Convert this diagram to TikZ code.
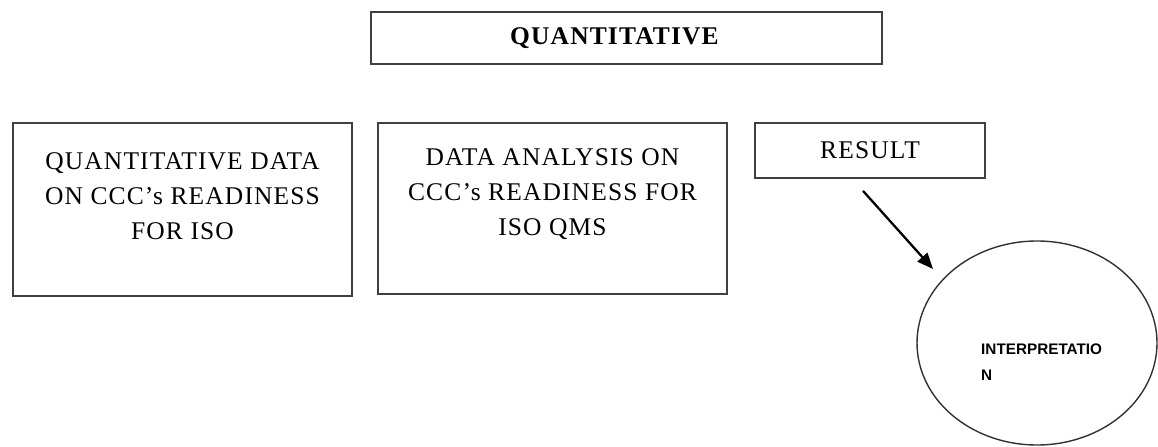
\documentclass[tikz,border=0pt]{standalone}
\usepackage{fontspec}
\setmainfont[LetterSpace=4.5]{Liberation Serif}
\newfontfamily\labelsans{Liberation Sans}
\usetikzlibrary{arrows.meta,shapes.geometric}

\begin{document}
\begin{tikzpicture}[font=\fontsize{14.5}{20}\selectfont]

      \useasboundingbox (0,0) rectangle (23.16,8.92);

      % 上の見出し
      \node[draw=black!75, line width=1pt, minimum width=10.22cm, minimum height=1.04cm] (quant) at (12.53,8.16) {};
      \node (quanttxt) at (12.30,8.16) {\textbf{QUANTITATIVE}};

      % データの箱
      \node[draw=black!75, line width=1pt, minimum width=6.78cm, minimum height=3.46cm] (data) at (3.65,4.73) {};
      \node[align=center] (datatxt) at (3.65,5.00) {QUANTITATIVE DATA\\ON CCC's READINESS\\FOR ISO};

      % 分析の箱
      \node[draw=black!75, line width=1pt, minimum width=6.98cm, minimum height=3.42cm] (analysis) at (11.05,4.75) {};
      \node[align=center] (analysistxt) at (11.05,5.04) {DATA ANALYSIS ON\\CCC's READINESS FOR\\ISO QMS};

      % 結果と解釈
      \node[draw=black!75, line width=1pt, minimum width=4.6cm, minimum height=1.1cm] (result) at (17.40,5.91) {RESULT};
      \node[draw=black!80, ellipse, line width=0.8pt, minimum width=4.8cm, minimum height=4.08cm] (interp) at (20.74,2.06) {};
      \node[anchor=west, align=left, font=\labelsans\bfseries\fontsize{8.7}{14.8}\selectfont] (interptxt) at (19.50,1.68) {INTERPRETATIO\\N};

      \coordinate (tip) at (18.66,3.54);
      \draw[line width=1.3pt, -{Triangle[length=0.32cm,width=0.26cm]}] ([shift={(-0.14,-0.24)}]result.south) -- (tip);

    \end{tikzpicture}
\end{document}
